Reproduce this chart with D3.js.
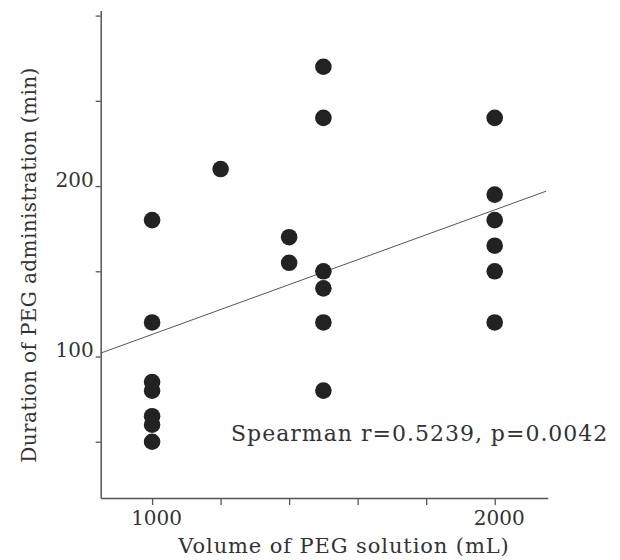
<!DOCTYPE html>
<html>
<head>
    <meta charset="utf-8">
    <title>Duration of PEG administration vs volume</title>
    <style>
        body { margin: 0; background: #fff; }
        text { font-family: "DejaVu Serif", serif; fill: #333; }
    </style>
</head>
<body>

<script src="https://cdn.jsdelivr.net/npm/d3@7"></script>
<script type="text/javascript">

// volume (mL) and duration (min) for each patient
var volume   = [1000, 1000, 1000, 1000, 1000, 1000, 1000,
                1200,
                1400, 1400,
                1500, 1500, 1500, 1500, 1500, 1500,
                2000, 2000, 2000, 2000, 2000, 2000];
var duration = [180, 120, 85, 80, 65, 60, 50,
                210,
                170, 155,
                270, 240, 150, 140, 120, 80,
                240, 195, 180, 165, 150, 120];

// fitted line, ends as drawn
var fitX = [850, 2150];
var fitY = [102, 197];

var xTicks = [1000, 1200, 1400, 1600, 1800, 2000];
var xLabels = [1000, 2000];
var yTicks = [50, 100, 150, 200, 250, 300];
var yLabels = [100, 200];

var statText = "Spearman r=0.5239, p=0.0042";

var width = 620, height = 560;

var x = d3.scaleLinear().domain([850, 2155]).range([100.7, 547.8]);
var y = d3.scaleLinear().domain([17, 303]).range([498, 10.5]);

var svg = d3.select("body")
    .append("svg")
    .attr("width", width)
    .attr("height", height);

// axes
var xAxis = svg.append("g")
    .attr("transform", "translate(0," + y(17) + ")")
    .call(d3.axisBottom(x)
        .tickValues(xTicks)
        .tickSize(7)
        .tickSizeOuter(0)
        .tickFormat(function(d) { return xLabels.indexOf(d) >= 0 ? d : ""; }));

var yAxis = svg.append("g")
    .attr("transform", "translate(" + x(850) + ",0)")
    .call(d3.axisLeft(y)
        .tickValues(yTicks)
        .tickSize(5)
        .tickSizeOuter(0)
        .tickFormat(function(d) { return yLabels.indexOf(d) >= 0 ? d : ""; }));

[xAxis, yAxis].forEach(function(g) {
    g.select(".domain").attr("stroke", "#555").attr("stroke-width", 1.5);
    g.selectAll(".tick line").attr("stroke", "#555").attr("stroke-width", 1.3);
    g.selectAll(".tick text")
        .attr("fill", "#333")
        .style("font-family", "DejaVu Serif, serif")
        .style("font-size", "20px");
});

xAxis.selectAll(".tick text").attr("y", 13).attr("dx", 4);
yAxis.selectAll(".tick text").attr("x", -7).attr("dy", "0");

// regression line
svg.append("line")
    .attr("x1", x(fitX[0]))
    .attr("y1", y(fitY[0]))
    .attr("x2", x(fitX[1]))
    .attr("y2", y(fitY[1]))
    .style("stroke", "#555")
    .style("stroke-width", 1);

// points
svg.selectAll("circle.pt")
    .data(volume)
    .enter()
    .append("circle")
    .attr("class", "pt")
    .attr("cx", function(d) { return x(d); })
    .attr("cy", function(d, i) { return y(duration[i]); })
    .attr("r", 8.3)
    .style("fill", "#222");

// annotation
svg.append("text")
    .attr("x", 231)
    .attr("y", 441)
    .style("font-size", "22px")
    .style("letter-spacing", "1px")
    .text(statText);

// axis titles
svg.append("text")
    .attr("x", 344)
    .attr("y", 553)
    .attr("text-anchor", "middle")
    .style("font-size", "21px")
    .style("letter-spacing", "0.9px")
    .text("Volume of PEG solution (mL)");

svg.append("text")
    .attr("transform", "translate(36,265) rotate(-90)")
    .attr("text-anchor", "middle")
    .style("font-size", "20px")
    .style("letter-spacing", "0.4px")
    .text("Duration of PEG administration (min)");

</script>
</body>
</html>
